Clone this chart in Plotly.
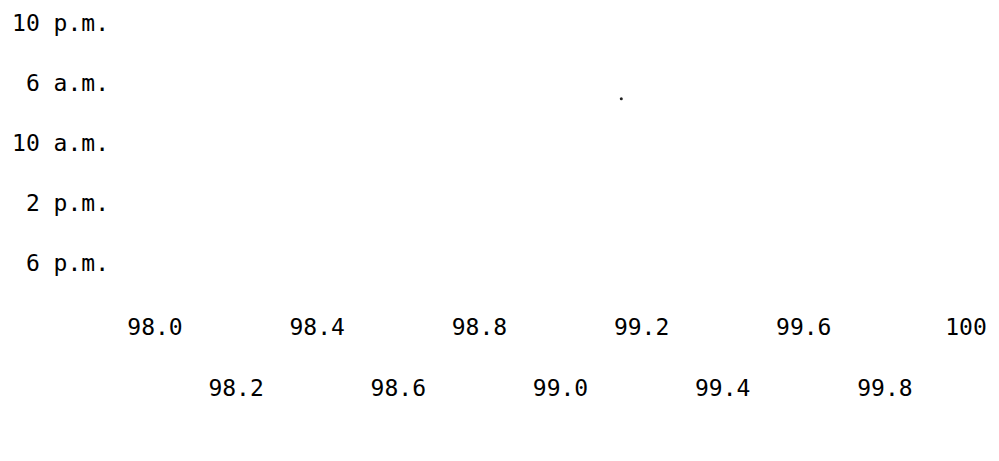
import plotly.graph_objects as go

# Data
time_labels = ["10 p.m.", " 6 a.m.", "10 a.m.", " 2 p.m.", " 6 p.m."]
time_index = [0, 1, 2, 3, 4]
temp_upper = [98.0, 98.4, 98.8, 99.2, 99.6, 100.0]
temp_upper_text = ["98.0", "98.4", "98.8", "99.2", "99.6", "100"]
temp_lower = [98.2, 98.6, 99.0, 99.4, 99.8]
temp_lower_text = ["98.2", "98.6", "99.0", "99.4", "99.8"]
point_temp = [99.15]
point_time = [1.26]

FONT = dict(family="DejaVu Sans Mono", size=23, color="#000000")

fig = go.Figure()
fig.add_trace(go.Scatter(
    x=point_temp, y=point_time, mode="markers",
    marker=dict(size=3, color="#222222"),
    showlegend=False, hoverinfo="skip",
))
# invisible trace for secondary x axis
fig.add_trace(go.Scatter(
    x=point_temp, y=point_time, mode="markers", xaxis="x2",
    marker=dict(size=1, color="rgba(0,0,0,0)"),
    showlegend=False, hoverinfo="skip",
))

XR = [97.9014, 100.0568]
fig.update_layout(
    width=999, height=461,
    margin=dict(l=115, r=10, t=10, b=161),
    paper_bgcolor="white", plot_bgcolor="white",
    font=FONT,
    xaxis=dict(
        range=XR, tickvals=temp_upper, ticktext=temp_upper_text,
        showgrid=False, zeroline=False, showline=False, ticks="",
        ticklabelstandoff=11, tickfont=FONT,
    ),
    xaxis2=dict(
        range=XR, overlaying="x", side="bottom", anchor="y",
        tickvals=temp_lower, ticktext=temp_lower_text,
        showgrid=False, zeroline=False, showline=False, ticks="",
        ticklabelstandoff=72, tickfont=FONT,
    ),
    yaxis=dict(
        range=[4.609, -0.1646], tickvals=time_index, ticktext=time_labels,
        showgrid=False, zeroline=False, showline=False, ticks="",
        ticklabelstandoff=5, tickfont=FONT,
    ),
)

fig.write_html(
    "out.html",
    config={"displayModeBar": False},
    post_script="document.body.style.margin='0';document.body.style.overflow='hidden';",
)
